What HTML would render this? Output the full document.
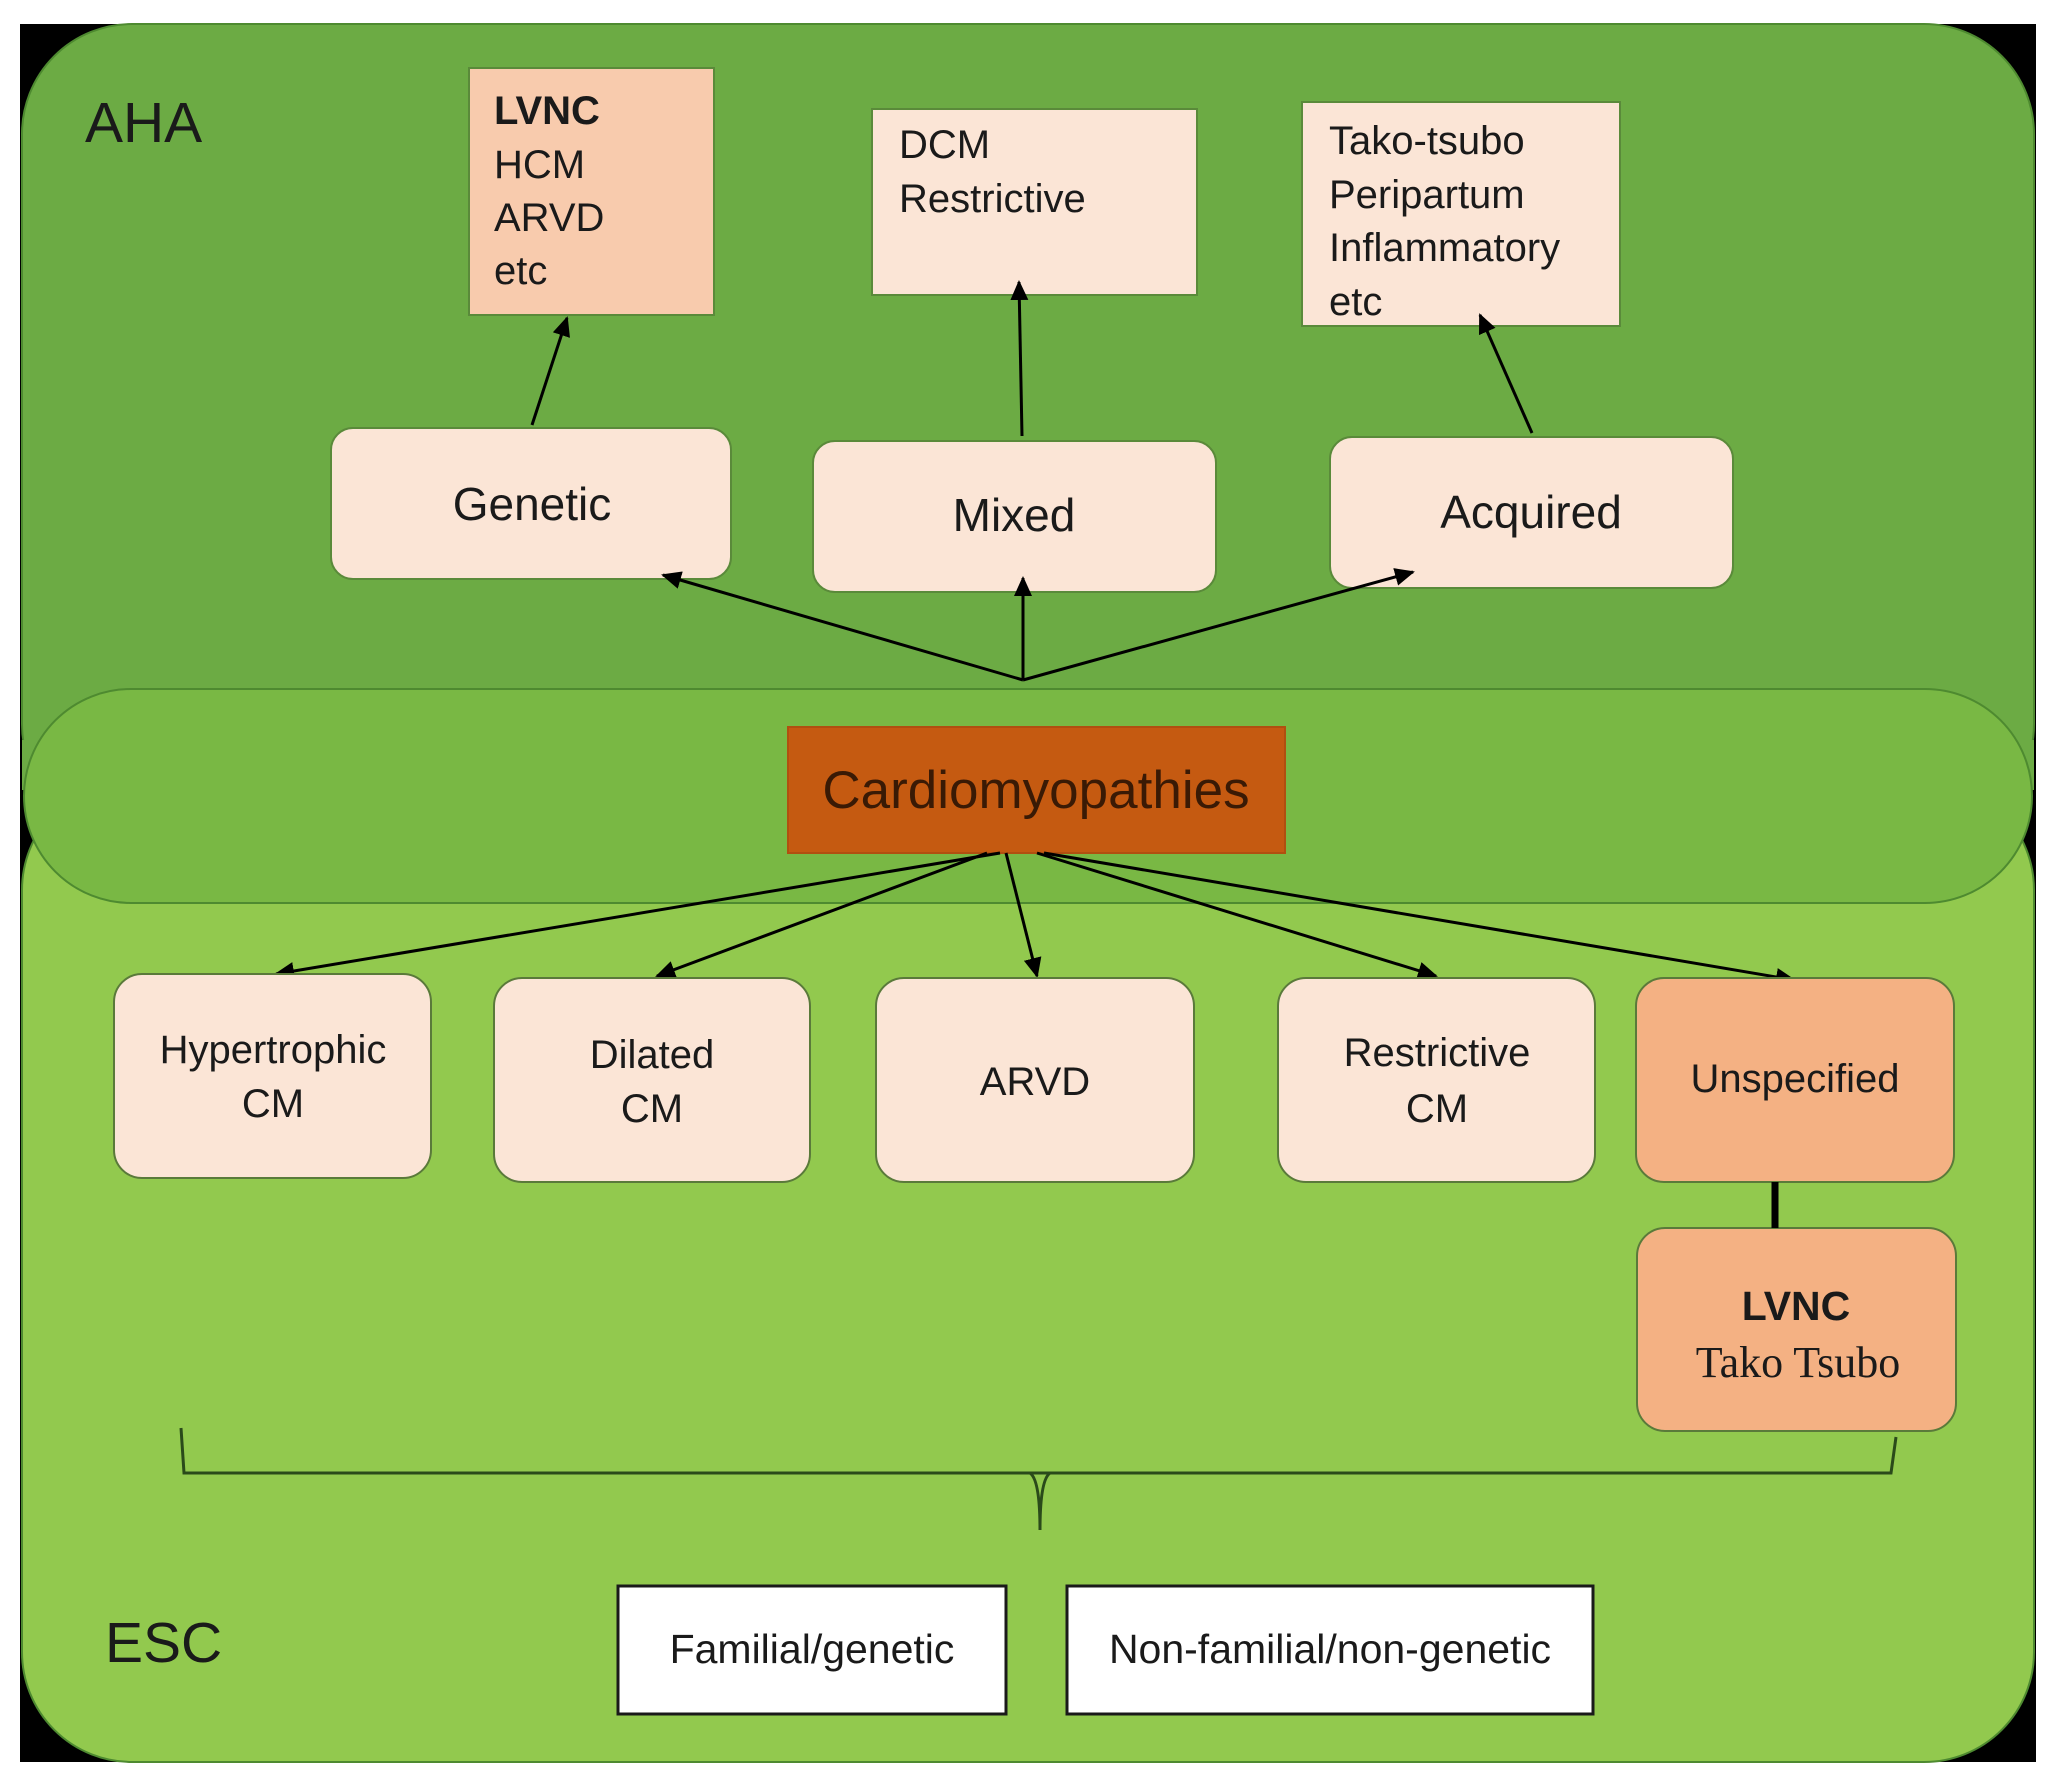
<!DOCTYPE html>
<html><head><meta charset="utf-8"><style>
html,body{margin:0;padding:0;background:#fff;}
svg{display:block;}
text{font-family:"Liberation Sans",sans-serif;fill:#1a1a1a;}
</style></head><body>
<svg width="2055" height="1786" viewBox="0 0 2055 1786" xmlns="http://www.w3.org/2000/svg">
<defs>
<marker id="a" markerWidth="20" markerHeight="18" refX="18" refY="9" orient="auto" markerUnits="userSpaceOnUse" viewBox="0 0 20 18">
<path d="M0,0 L20,9 L0,18 z" fill="#000"/></marker>
</defs>
<rect x="20" y="24" width="2016" height="1738" fill="#000"/>
<rect x="22" y="780" width="2012" height="982" rx="110" fill="#92c94e" stroke="#4e8a30" stroke-width="2"/>
<rect x="22" y="24" width="2012" height="810" rx="110" fill="#6cab44" stroke="#4e8a30" stroke-width="2"/>
<rect x="22" y="740" width="2012" height="50" fill="#6cab44"/>
<rect x="24" y="689" width="2008" height="214" rx="107" fill="#79b844" stroke="#4e8a30" stroke-width="2"/>

<text x="85" y="142" font-size="57">AHA</text>
<text x="105" y="1662" font-size="57">ESC</text>

<rect x="469" y="68" width="245" height="247" fill="#f8cbad" stroke="#5a8a3a" stroke-width="2"/>
<text x="494" y="124" font-size="40" font-weight="bold">LVNC</text>
<text x="494" y="178" font-size="40">HCM</text>
<text x="494" y="231" font-size="40">ARVD</text>
<text x="494" y="284" font-size="40">etc</text>

<rect x="872" y="109" width="325" height="186" fill="#fbe5d6" stroke="#5a8a3a" stroke-width="2"/>
<text x="899" y="158" font-size="40">DCM</text>
<text x="899" y="212" font-size="40">Restrictive</text>

<rect x="1302" y="102" width="318" height="224" fill="#fbe5d6" stroke="#5a8a3a" stroke-width="2"/>
<text x="1329" y="154" font-size="40">Tako-tsubo</text>
<text x="1329" y="208" font-size="40">Peripartum</text>
<text x="1329" y="261" font-size="40">Inflammatory</text>
<text x="1329" y="315" font-size="40">etc</text>

<rect x="331" y="428" width="400" height="151" rx="22" fill="#fbe5d6" stroke="#5a8a3a" stroke-width="2"/>
<text x="532" y="520" font-size="46" text-anchor="middle">Genetic</text>
<rect x="813" y="441" width="403" height="151" rx="22" fill="#fbe5d6" stroke="#5a8a3a" stroke-width="2"/>
<text x="1014" y="531" font-size="46" text-anchor="middle">Mixed</text>
<rect x="1330" y="437" width="403" height="151" rx="22" fill="#fbe5d6" stroke="#5a8a3a" stroke-width="2"/>
<text x="1531" y="528" font-size="46" text-anchor="middle">Acquired</text>

<g stroke="#000" stroke-width="3" fill="none" marker-end="url(#a)">
<line x1="532" y1="425" x2="567" y2="318"/>
<line x1="1022" y1="436" x2="1019" y2="282"/>
<line x1="1532" y1="433" x2="1480" y2="315"/>
<line x1="1023" y1="680" x2="663" y2="575"/>
<line x1="1023" y1="680" x2="1023" y2="578"/>
<line x1="1023" y1="680" x2="1413" y2="572"/>
</g>

<rect x="788" y="727" width="497" height="126" fill="#c55a11" stroke="#b05010" stroke-width="2"/>
<text x="1036" y="808" font-size="53" text-anchor="middle" style="fill:#3a1a05">Cardiomyopathies</text>

<g stroke="#000" stroke-width="3" fill="none" marker-end="url(#a)">
<line x1="1000" y1="853" x2="276" y2="974"/>
<line x1="987" y1="853" x2="657" y2="976"/>
<line x1="1006" y1="853" x2="1037" y2="976"/>
<line x1="1037" y1="853" x2="1436" y2="976"/>
<line x1="1044" y1="853" x2="1794" y2="980"/>
</g>

<g stroke="#5a7a3a" stroke-width="2">
<rect x="114" y="974" width="317" height="204" rx="28" fill="#fbe5d6"/>
<rect x="494" y="978" width="316" height="204" rx="28" fill="#fbe5d6"/>
<rect x="876" y="978" width="318" height="204" rx="28" fill="#fbe5d6"/>
<rect x="1278" y="978" width="317" height="204" rx="28" fill="#fbe5d6"/>
<rect x="1636" y="978" width="318" height="204" rx="28" fill="#f4b183"/>
<rect x="1637" y="1228" width="319" height="203" rx="28" fill="#f4b183"/>
</g>
<line x1="1775" y1="1182" x2="1775" y2="1228" stroke="#000" stroke-width="7"/>

<g font-size="40" text-anchor="middle">
<text x="273" y="1063">Hypertrophic</text><text x="273" y="1117">CM</text>
<text x="652" y="1068">Dilated</text><text x="652" y="1122">CM</text>
<text x="1035" y="1095">ARVD</text>
<text x="1437" y="1066">Restrictive</text><text x="1437" y="1122">CM</text>
<text x="1795" y="1092">Unspecified</text>
<text x="1796" y="1320" font-weight="bold" font-size="41">LVNC</text>
<text x="1798" y="1377" font-size="44" style="font-family:'Liberation Serif',serif">Tako Tsubo</text>
</g>

<path d="M181,1428 L184,1473 L1891,1473 L1896,1437 M1030,1473 Q1040,1480 1040,1530 Q1040,1480 1050,1473" stroke="#2a4a1a" stroke-width="3" fill="none"/>

<rect x="618" y="1586" width="388" height="128" fill="#fff" stroke="#1a1a1a" stroke-width="3"/>
<text x="812" y="1663" font-size="41" text-anchor="middle">Familial/genetic</text>
<rect x="1067" y="1586" width="526" height="128" fill="#fff" stroke="#1a1a1a" stroke-width="3"/>
<text x="1330" y="1663" font-size="41" text-anchor="middle">Non-familial/non-genetic</text>
</svg>
</body></html>
